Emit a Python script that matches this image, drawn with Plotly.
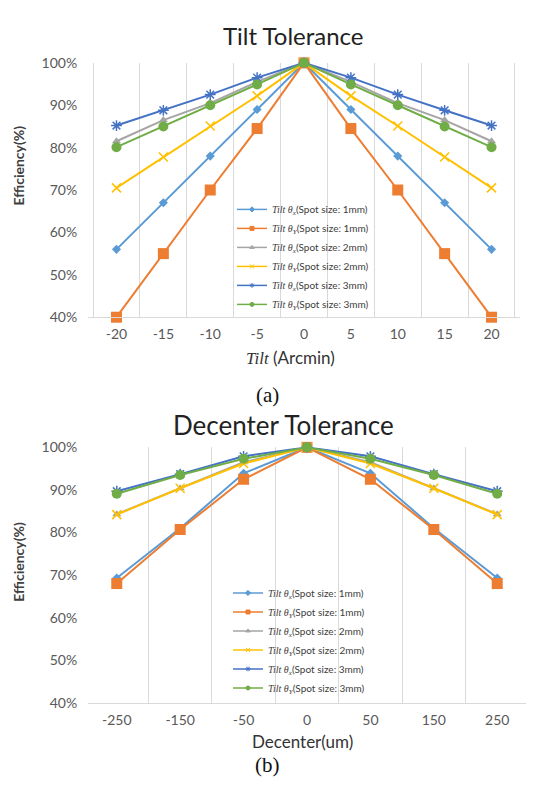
import plotly.graph_objects as go

W, H = 535, 789

# ---------------- data ----------------
tilt_x = ["-20", "-15", "-10", "-5", "0", "5", "10", "15", "20"]
tilt_x1 = [0.56, 0.67, 0.78, 0.89, 1.00, 0.89, 0.78, 0.67, 0.56]
tilt_y1 = [0.40, 0.55, 0.70, 0.845, 1.00, 0.845, 0.70, 0.55, 0.40]
tilt_x2 = [0.815, 0.865, 0.905, 0.955, 1.00, 0.955, 0.905, 0.865, 0.815]
tilt_y2 = [0.705, 0.778, 0.851, 0.922, 1.00, 0.922, 0.851, 0.778, 0.705]
tilt_x3 = [0.852, 0.888, 0.925, 0.965, 1.00, 0.965, 0.925, 0.888, 0.852]
tilt_y3 = [0.801, 0.85, 0.90, 0.949, 1.00, 0.949, 0.90, 0.85, 0.801]

dec_x = ["-250", "-150", "-50", "0", "50", "150", "250"]
dec_x1 = [0.693, 0.81, 0.939, 1.00, 0.939, 0.81, 0.693]
dec_y1 = [0.68, 0.807, 0.925, 1.00, 0.925, 0.807, 0.68]
dec_x2 = [0.843, 0.904, 0.965, 1.00, 0.965, 0.904, 0.843]
dec_y2 = [0.842, 0.904, 0.962, 1.00, 0.962, 0.904, 0.842]
dec_x3 = [0.897, 0.937, 0.979, 1.00, 0.979, 0.937, 0.897]
dec_y3 = [0.891, 0.935, 0.973, 1.00, 0.973, 0.935, 0.891]

series_names = [
    ("x", "1mm"), ("Y", "1mm"), ("x", "2mm"),
    ("Y", "2mm"), ("x", "3mm"), ("Y", "3mm"),
]
colors = ["#5B9BD5", "#ED7D31", "#A5A5A5", "#FFC000", "#4472C4", "#70AD47"]
symbols = ["diamond", "square", "triangle-up", "x-thin-open", "asterisk-open", "circle"]
sizes = [7, 11, 8, 9, 9, 10]

FONT = "Lato, Open Sans, sans-serif"
SERIF = "Liberation Serif, DejaVu Serif, serif"
TICK = "#595959"


def label(sub, spot):
    return (f"<span style='font-family:{SERIF}'><i>Tilt θ<sub>{sub}</sub></i></span>"
            f"(Spot size: {spot})")


def px_x(p):
    return p / W


def px_y(p):
    return 1 - p / H


fig = go.Figure()

top_sets = [tilt_x1, tilt_y1, tilt_x2, tilt_y2, tilt_x3, tilt_y3]
bot_sets = [dec_x1, dec_y1, dec_x2, dec_y2, dec_x3, dec_y3]

for i, vals in enumerate(top_sets):
    fig.add_trace(go.Scatter(
        x=tilt_x, y=vals, mode="lines+markers", xaxis="x", yaxis="y",
        line=dict(color=colors[i], width=2),
        marker=dict(symbol=symbols[i], size=sizes[i], color=colors[i],
                    line=dict(color=colors[i], width=1.5 if "open" in symbols[i] else 0)),
        showlegend=False, cliponaxis=False, hoverinfo="skip"))
for i, vals in enumerate(bot_sets):
    fig.add_trace(go.Scatter(
        x=dec_x, y=vals, mode="lines+markers", xaxis="x2", yaxis="y2",
        line=dict(color=colors[i], width=2),
        marker=dict(symbol=symbols[i], size=sizes[i], color=colors[i],
                    line=dict(color=colors[i], width=1.5 if "open" in symbols[i] else 0)),
        showlegend=False, cliponaxis=False, hoverinfo="skip"))

# legend-only entries (small markers like Excel)
for leg, xa, ya in (("legend", "x", "y"), ("legend2", "x2", "y2")):
    for i, (sub, spot) in enumerate(series_names):
        fig.add_trace(go.Scatter(
            x=[None], y=[None], mode="lines+markers", xaxis=xa, yaxis=ya,
            name=label(sub, spot), legend=leg,
            line=dict(color=colors[i], width=1.5),
            marker=dict(symbol=symbols[i], size=4, color=colors[i],
                        line=dict(color=colors[i], width=1)),
            showlegend=True))

xcommon = dict(type="category", tickson="boundaries", showgrid=True,
               gridcolor="#D9D9D9", gridwidth=1, showline=True, linecolor="#D9D9D9",
               ticks="", ticklabelstandoff=4,
               tickfont=dict(family=FONT, size=14, color=TICK),
               zeroline=False)
ycommon = dict(range=[0.4, 1.0], dtick=0.1, tickformat=".0%", showgrid=False,
               showline=False, zeroline=False,
               ticks="outside", ticklen=7, tickcolor="rgba(0,0,0,0)",
               tickfont=dict(family=FONT, size=14, color=TICK))

fig.update_layout(
    width=W, height=H,
    margin=dict(l=0, r=0, t=0, b=0),
    paper_bgcolor="white", plot_bgcolor="white",
    font=dict(family=FONT),
    xaxis=dict(domain=[px_x(88), px_x(520)], anchor="y", **xcommon),
    yaxis=dict(domain=[px_y(315), px_y(55)], anchor="x", **ycommon),
    xaxis2=dict(domain=[px_x(88), px_x(526)], anchor="y2", **xcommon),
    yaxis2=dict(domain=[px_y(709), px_y(448)], anchor="x2", **ycommon),
    legend=dict(x=px_x(232), y=px_y(190), xanchor="left", yanchor="top",
                bgcolor="rgba(0,0,0,0)", font=dict(family=FONT, size=10, color="#404040"),
                tracegroupgap=0, itemwidth=30),
    legend2=dict(x=px_x(228), y=px_y(582), xanchor="left", yanchor="top",
                 bgcolor="rgba(0,0,0,0)", font=dict(family=FONT, size=10, color="#404040"),
                 tracegroupgap=0, itemwidth=30),
)

ann = [
    dict(text="Tilt Tolerance", x=px_x(293), y=px_y(27), font=dict(size=24, color="#222")),
    dict(text="Decenter Tolerance", x=px_x(283), y=px_y(425), font=dict(size=26, color="#222")),
    dict(text="<b>Efficiency(%)</b>", x=px_x(19), y=px_y(160), textangle=-90,
         font=dict(size=14, color="#404040")),
    dict(text="<b>Efficiency(%)</b>", x=px_x(19), y=px_y(565), textangle=-90,
         font=dict(size=14, color="#404040")),
    dict(text=f"<span style='font-family:{SERIF}'><i>Tilt</i></span> (Arcmin)",
         x=px_x(290), y=px_y(356), font=dict(size=17, color="#333")),
    dict(text="Decenter(um)", x=px_x(302), y=px_y(749), font=dict(size=17, color="#333")),
    dict(text="(a)", x=px_x(267), y=px_y(395), font=dict(family=SERIF, size=21, color="#111")),
    dict(text="(b)", x=px_x(267), y=px_y(773), font=dict(family=SERIF, size=21, color="#111")),
]
for a in ann:
    f = a.pop("font")
    f.setdefault("family", FONT)
    fig.add_annotation(xref="paper", yref="paper", showarrow=False,
                       xanchor="center", yanchor="middle", font=f, **a)

fig.write_html("out.html", config={"displayModeBar": False},
               post_script="document.body.style.margin='0';document.body.style.overflow='hidden';")
